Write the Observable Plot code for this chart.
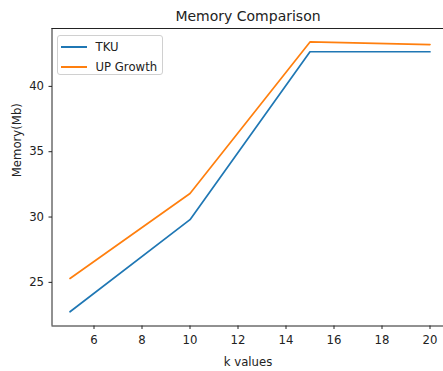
<!DOCTYPE html>
<html>
<head>
<meta charset="utf-8">
<script src="https://cdn.jsdelivr.net/npm/d3@7"></script>
<script src="https://cdn.jsdelivr.net/npm/@observablehq/plot@0.6"></script>
<style>
  html, body { margin: 0; padding: 0; background: #fff; }
  #wrap { position: relative; width: 443px; height: 371px; overflow: hidden; font-family: "DejaVu Sans", sans-serif; }
  #legend { position: absolute; left: 56.5px; top: 35px; width: 106px; height: 40px; border: 1px solid #d0d0d0; border-radius: 3px; background: rgba(255,255,255,0.8); box-sizing: border-box; font-size: 11.7px; color: #222; }
  .row { position: absolute; left: 3px; height: 14px; display: flex; align-items: center; }
  .sw { display: inline-block; width: 26px; height: 2px; margin-right: 9px; }
</style>
</head>
<body>
<div id="wrap"></div>
<script>
const kValues = [5, 10, 15, 20];
const tku = [22.75, 29.8, 42.65, 42.65];
const upGrowth = [25.3, 31.8, 43.4, 43.2];
const seriesNames = ["TKU", "UP Growth"];
const seriesColors = ["#1f77b4", "#ff7f0e"];
const xTicks = [6, 8, 10, 12, 14, 16, 18, 20];
const yTicks = [25, 30, 35, 40];
const title = "Memory Comparison";
const xLabel = "k values";
const yLabel = "Memory(Mb)";

const data = [];
kValues.forEach((k, i) => {
  data.push({k, v: tku[i], s: seriesNames[0]});
  data.push({k, v: upGrowth[i], s: seriesNames[1]});
});

const xDomain = [4.25, 20.75];
const yDomain = [21.66, 44.43];
const font = "DejaVu Sans, sans-serif";
const ink = "#222";

const chart = Plot.plot({
  width: 443,
  height: 371,
  marginLeft: 52,
  marginTop: 28,
  marginBottom: 45.5,
  marginRight: 0,
  style: { fontFamily: font, fontSize: "11.7px", color: ink, background: "transparent", overflow: "hidden" },
  x: { domain: xDomain, range: [51.5, 447.5] },
  y: { domain: yDomain, range: [325.5, 28] },
  color: { domain: seriesNames, range: seriesColors },
  marks: [
    Plot.axisX({ ticks: xTicks, tickSize: 3.5, tickPadding: 6, label: null, fontSize: 11.7, stroke: ink, fill: ink }),
    Plot.axisY({ ticks: yTicks, tickSize: 3.5, tickPadding: 5, label: null, fontSize: 11.7, stroke: ink, fill: ink }),
    Plot.ruleX([xDomain[0]], { y1: yDomain[0], y2: yDomain[1], stroke: ink, strokeWidth: 1 }),
    Plot.ruleY([yDomain[0], yDomain[1]], { x1: xDomain[0], x2: xDomain[1], stroke: ink, strokeWidth: 1 }),
    Plot.line(data, { x: "k", y: "v", z: "s", stroke: "s", strokeWidth: 1.7 }),
    Plot.text([title], { frameAnchor: "top", lineAnchor: "bottom", dy: -8, dx: 0, fontSize: 14, fill: ink }),
    Plot.text([xLabel], { frameAnchor: "bottom", lineAnchor: "bottom", dy: 39.5, fontSize: 11.7, fill: ink }),
    Plot.text([yLabel], { frameAnchor: "left", dx: -35, rotate: -90, fontSize: 11.7, fill: ink })
  ]
});
const wrap = document.getElementById("wrap");
wrap.appendChild(chart);

const legend = document.createElement("div");
legend.id = "legend";
seriesNames.forEach((name, i) => {
  const row = document.createElement("div");
  row.className = "row";
  row.style.top = (3.5 + i * 20) + "px";
  const sw = document.createElement("span");
  sw.className = "sw";
  sw.style.backgroundColor = seriesColors[i];
  const t = document.createElement("span");
  t.textContent = name;
  row.appendChild(sw);
  row.appendChild(t);
  legend.appendChild(row);
});
wrap.appendChild(legend);
</script>
</body>
</html>
